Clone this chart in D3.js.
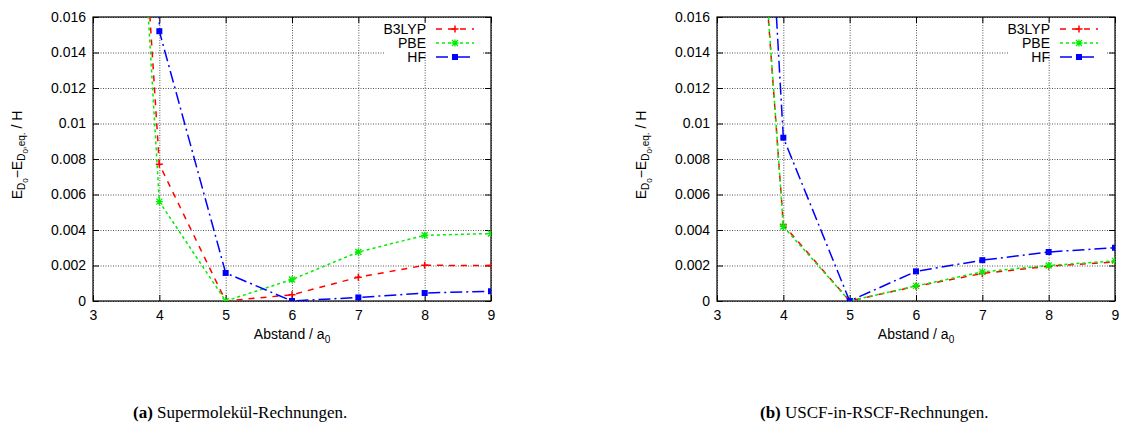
<!DOCTYPE html>
<html>
<head>
<meta charset="utf-8">
<script src="https://cdn.jsdelivr.net/npm/d3@7"></script>
<style>
  body { margin: 0; background: #fff; }
  svg text { font-family: "Liberation Sans", Arial, sans-serif; }
  .grid line { stroke: #555; stroke-dasharray: 1,1.5; }
  .grid path { display: none; }
  .cap { font-family: "Liberation Serif", "DejaVu Serif", serif; }
</style>
</head>
<body>
<div id="chart"></div>
<script>
// distances (a0) and energies (Hartree)
var xValues = [3.5, 4, 5, 6, 7, 8, 9];

var superB3LYP = [0.037, 0.0077, 0, 0.00035, 0.00134, 0.00201, 0.0020];
var superPBE   = [0.037, 0.0056, 0, 0.00121, 0.00276, 0.0037, 0.0038];
var superHF    = [0.35, 0.0152, 0.00158, 0, 0.0002, 0.00045, 0.00055];

var uscfB3LYP = [0.030, 0.0043, 0, 0.00083, 0.00155, 0.00196, 0.0022];
var uscfPBE   = [0.0305, 0.0042, 0, 0.00085, 0.00164, 0.0020, 0.00226];
var uscfHF    = [0.042, 0.0092, 0, 0.00167, 0.0023, 0.00276, 0.0030];

var seriesNames = ["B3LYP", "PBE", "HF"];
var xTicks = [3, 4, 5, 6, 7, 8, 9];
var yTicks = [0, 0.002, 0.004, 0.006, 0.008, 0.01, 0.012, 0.014, 0.016];
var yTickLabels = ["0", "0.002", "0.004", "0.006", "0.008", "0.01", "0.012", "0.014", "0.016"];

var svgWidth = 1122;
var svgHeight = 441;

var svg = d3.select("#chart")
  .append("svg")
  .attr("width", svgWidth)
  .attr("height", svgHeight);

var styles = [
  { color: "#ff0000", dash: "6,6", marker: "plus" },
  { color: "#00ee00", dash: "3,3", marker: "star" },
  { color: "#0000ff", dash: "12,4,2,4", marker: "square" }
];

function drawMarker(g, type, cx, cy, color) {
  if (type === "plus") {
    g.append("path").attr("d", `M${cx - 3.5},${cy}H${cx + 3.5}M${cx},${cy - 3.5}V${cy + 3.5}`)
      .attr("stroke", color).attr("stroke-width", 1.5);
  } else if (type === "star") {
    g.append("path").attr("d", `M${cx - 3.5},${cy}H${cx + 3.5}M${cx},${cy - 3.5}V${cy + 3.5}M${cx - 3},${cy - 3}L${cx + 3},${cy + 3}M${cx - 3},${cy + 3}L${cx + 3},${cy - 3}`)
      .attr("stroke", color).attr("stroke-width", 1.3);
  } else {
    g.append("rect").attr("x", cx - 3).attr("y", cy - 3).attr("width", 6).attr("height", 6)
      .attr("fill", color);
  }
}

function drawPanel(left, series, id, captionBold, captionText, capX) {
  var x0 = left, x1 = left + 398, y0 = 17, y1 = 301;
  var xScale = d3.scaleLinear().domain([3, 9]).range([x0, x1]);
  var yScale = d3.scaleLinear().domain([0, 0.016]).range([y1, y0]);

  var panel = svg.append("g");

  // grid
  panel.append("g").attr("class", "grid")
    .attr("transform", `translate(0, ${y1})`)
    .call(d3.axisBottom(xScale).tickValues(xTicks).tickSize(-(y1 - y0)).tickFormat(""));
  panel.append("g").attr("class", "grid")
    .attr("transform", `translate(${x0}, 0)`)
    .call(d3.axisLeft(yScale).tickValues(yTicks).tickSize(-(x1 - x0)).tickFormat(""));

  // opaque key box
  panel.append("rect")
    .attr("x", x0 + 291).attr("y", 21).attr("width", 99).attr("height", 33)
    .attr("fill", "#fff");

  // axes, ticks pointing inward and mirrored
  var bottom = panel.append("g").attr("transform", `translate(0, ${y1})`)
    .call(d3.axisBottom(xScale).tickValues(xTicks).tickSize(-6).tickPadding(9).tickFormat(d3.format("d")));
  var leftAx = panel.append("g").attr("transform", `translate(${x0}, 0)`)
    .call(d3.axisLeft(yScale).tickValues(yTicks).tickSize(-6).tickPadding(7)
      .tickFormat(function(d, i) { return yTickLabels[i]; }));
  panel.append("g").attr("transform", `translate(0, ${y0})`)
    .call(d3.axisTop(xScale).tickValues(xTicks).tickSize(-6).tickFormat(""));
  panel.append("g").attr("transform", `translate(${x1}, 0)`)
    .call(d3.axisRight(yScale).tickValues(yTicks).tickSize(-6).tickFormat(""));
  panel.selectAll(".domain").remove();
  panel.selectAll(".tick text").attr("font-size", 14).attr("fill", "#000")
    .attr("font-family", "Liberation Sans, Arial, sans-serif");

  // frame
  panel.append("rect")
    .attr("x", x0).attr("y", y0).attr("width", x1 - x0).attr("height", y1 - y0)
    .attr("fill", "none").attr("stroke", "#000").attr("stroke-width", 1.2);

  // clip for data
  svg.append("clipPath").attr("id", id)
    .append("rect").attr("x", x0).attr("y", y0).attr("width", x1 - x0).attr("height", y1 - y0);

  var dataG = panel.append("g").attr("clip-path", `url(#${id})`);
  var line = d3.line()
    .x(function(d, i) { return xScale(xValues[i]); })
    .y(function(d) { return yScale(d); });

  series.forEach(function(vals, k) {
    var st = styles[k];
    dataG.append("path")
      .attr("d", line(vals))
      .attr("fill", "none")
      .attr("stroke", st.color)
      .attr("stroke-width", 1.5)
      .attr("stroke-dasharray", st.dash);
    vals.forEach(function(v, i) {
      drawMarker(dataG, st.marker, xScale(xValues[i]), yScale(v), st.color);
    });
  });

  // legend
  seriesNames.forEach(function(name, k) {
    var st = styles[k];
    var cy = 29 + k * 14;
    panel.append("text")
      .attr("x", x0 + 333).attr("y", cy + 5)
      .attr("text-anchor", "end").attr("font-size", 14)
      .text(name);
    panel.append("line")
      .attr("x1", x0 + 343).attr("x2", x0 + 381)
      .attr("y1", cy).attr("y2", cy)
      .attr("stroke", st.color).attr("stroke-width", 1.5)
      .attr("stroke-dasharray", st.dash);
    drawMarker(panel, st.marker, x0 + 362, cy, st.color);
  });

  // axis labels
  var xl = panel.append("text")
    .attr("x", (x0 + x1) / 2).attr("y", 339)
    .attr("text-anchor", "middle").attr("font-size", 14);
  xl.append("tspan").text("Abstand / a");
  xl.append("tspan").attr("font-size", 10).attr("dy", 4).text("0");

  var yl = panel.append("text")
    .attr("transform", `translate(${x0 - 71}, ${(y0 + y1) / 2 - 4}) rotate(-90)`)
    .attr("text-anchor", "middle").attr("font-size", 14);
  yl.append("tspan").text("E");
  yl.append("tspan").attr("font-size", 10).attr("dy", 3).text("D");
  yl.append("tspan").attr("font-size", 8).attr("dy", 3).text("0");
  yl.append("tspan").attr("dy", -6).text("\u2212E");
  yl.append("tspan").attr("font-size", 10).attr("dy", 3).text("D");
  yl.append("tspan").attr("font-size", 8).attr("dy", 3).text("0");
  yl.append("tspan").attr("font-size", 10).attr("dy", -3).text(",eq.");
  yl.append("tspan").attr("dy", -3).text(" / H");

  // caption
  var cap = svg.append("text").attr("class", "cap")
    .attr("x", capX).attr("y", 418).attr("font-size", 17);
  cap.append("tspan").attr("font-weight", "bold").text(captionBold);
  cap.append("tspan").text(" " + captionText);
}

drawPanel(93, [superB3LYP, superPBE, superHF], "clipA", "(a)", "Supermolekül-Rechnungen.", 133);
drawPanel(717, [uscfB3LYP, uscfPBE, uscfHF], "clipB", "(b)", "USCF-in-RSCF-Rechnungen.", 760);
</script>
</body>
</html>
